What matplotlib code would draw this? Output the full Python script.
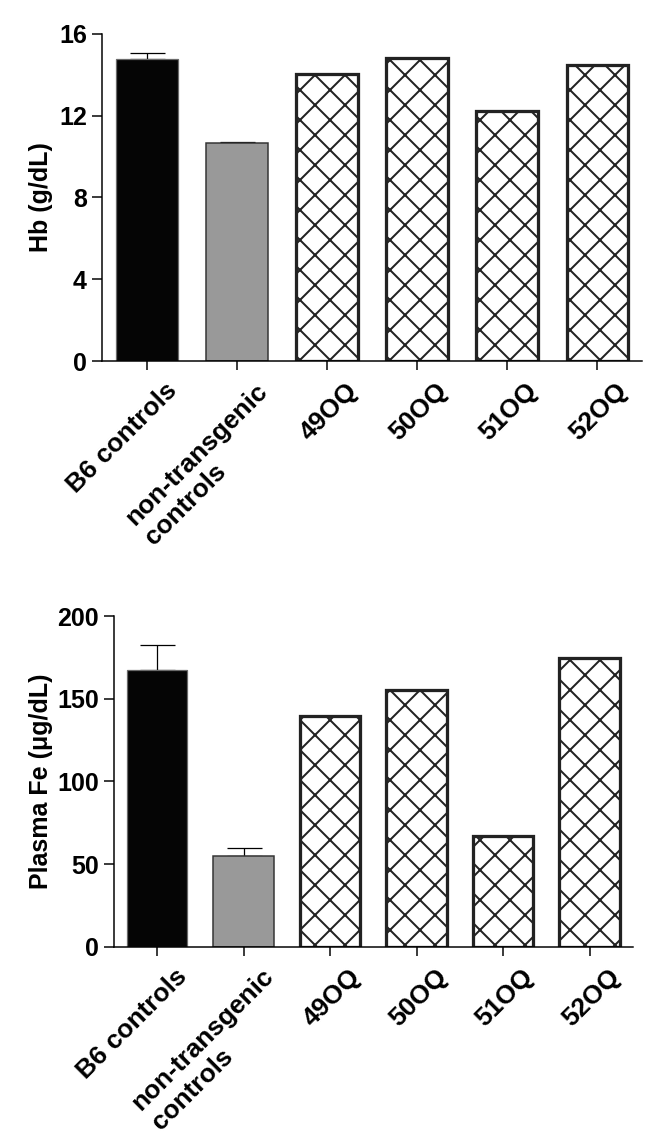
import matplotlib
matplotlib.use('Agg')
import matplotlib.pyplot as plt
from matplotlib.transforms import ScaledTranslation

plt.rcParams['font.family'] = ['Liberation Sans', 'DejaVu Sans']
plt.rcParams['font.weight'] = 'bold'
plt.rcParams['hatch.linewidth'] = 0.8

categories = ['B6 controls', 'non-transgenic\ncontrols', '49OQ', '50OQ', '51OQ', '52OQ']

hb = [14.75, 10.65, 14.03, 14.82, 12.23, 14.50]
hb_err = [0.29, 0.08]

fe = [167.4, 55.0, 139.5, 155.3, 67.0, 174.5]
fe_err = [14.9, 4.5]

hb_ticks = [0, 4, 8, 12, 16]
fe_ticks = [0, 50, 100, 150, 200]

DPI = 180


def panel(fig, rect, vals, errs, ticks, ylabel, width, label_x):
    ax = fig.add_axes(rect)
    x = list(range(len(categories)))

    # solid control bars
    ax.bar(x[0], vals[0], width, color='#050505', edgecolor='#6a6a6a', linewidth=0.5, zorder=2)
    ax.bar(x[1], vals[1], width, color='#999999', edgecolor='#333333', linewidth=0.6, zorder=2)
    # hatched transgenic lines
    ax.bar(x[2:], vals[2:], width, color='white', edgecolor='#222222',
           hatch='xx', linewidth=1.3, zorder=2)

    ax.errorbar(x[:2], vals[:2], yerr=[[0] * len(errs), errs], fmt='none',
                ecolor='black', elinewidth=0.5, capsize=7, capthick=0.5, zorder=1)

    ax.set_xlim(-0.5, len(categories) - 0.5)
    ax.set_ylim(ticks[0], ticks[-1])
    ax.set_yticks(ticks)
    ax.set_xticks(x)
    ax.set_xticklabels(categories, rotation=45, ha='right', va='top',
                       rotation_mode='anchor', fontsize=10.5, fontweight='bold')
    for lab in ax.get_yticklabels():
        lab.set_fontsize(10)

    for s in ['top', 'right']:
        ax.spines[s].set_visible(False)
    for s in ['left', 'bottom']:
        ax.spines[s].set_linewidth(0.6)
    ax.tick_params(axis='y', length=4, width=0.6, pad=2)
    ax.tick_params(axis='x', length=3.5, width=0.6, pad=0)

    shift = ScaledTranslation(18 / DPI, -9 / DPI, fig.dpi_scale_trans)
    for t in ax.xaxis.get_major_ticks():
        t.label1.set_transform(t.label1.get_transform() + shift)
        t.label1.set_multialignment('left')

    ax.set_ylabel(ylabel, fontsize=10, fontweight='bold')
    ax.yaxis.set_label_coords(label_x, 0.5)
    return ax


fig = plt.figure(figsize=(662 / DPI, 1140 / DPI), dpi=DPI)

panel(fig, [0.154, 0.6833, 0.816, 0.287], hb, hb_err, hb_ticks, 'Hb (g/dL)', 0.68, -0.091)
panel(fig, [0.172, 0.1696, 0.784, 0.290], fe, fe_err, fe_ticks, 'Plasma Fe (\u03bcg/dL)', 0.70, -0.1175)

fig.savefig('out.png', dpi=DPI)
